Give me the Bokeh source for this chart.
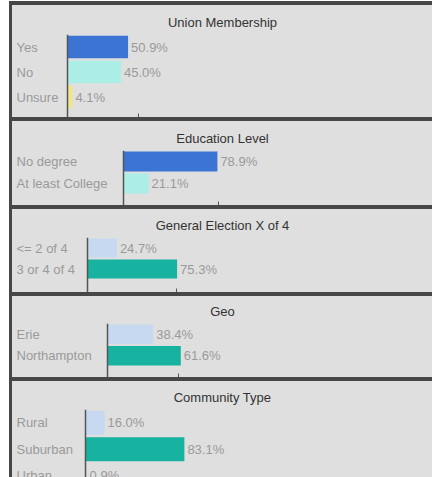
from bokeh.plotting import figure
from bokeh.layouts import column
from bokeh.models import Range1d, LabelSet, Span, FixedTicker, ColumnDataSource
from bokeh.core.properties import value
from bokeh.embed import file_html
from bokeh.resources import INLINE

# ---- data ----
titles = ["Union Membership", "Education Level", "General Election X of 4", "Geo", "Community Type"]
union_cats = ["Yes", "No", "Unsure"]
union_vals = [50.9, 45.0, 4.1]
edu_cats = ["No degree", "At least College"]
edu_vals = [78.9, 21.1]
ge_cats = ["<= 2 of 4", "3 or 4 of 4"]
ge_vals = [24.7, 75.3]
geo_cats = ["Erie", "Northampton"]
geo_vals = [38.4, 61.6]
comm_cats = ["Rural", "Suburban", "Urban"]
comm_vals = [16.0, 83.1, 0.9]
x_ticks = [[0, 60], [0, 80], [0, 75], [0, 60], []]

# ---- styles ----
BLUE = "#3b74d3"
CYAN = "#aaeee6"
YELLOW = "#f0e68c"
LIGHTBLUE = "#c6d9f0"
TEAL = "#17b2a0"
colors = [[BLUE, CYAN, YELLOW], [BLUE, CYAN], [LIGHTBLUE, TEAL], [LIGHTBLUE, TEAL], [LIGHTBLUE, TEAL, LIGHTBLUE]]
cats_all = [union_cats, edu_cats, ge_cats, geo_cats, comm_cats]
vals_all = [union_vals, edu_vals, ge_vals, geo_vals, comm_vals]

BG = "#dfdfdf"
FONT = "Liberation Sans"
W = 420
SCALE = 1.19  # px per percent
# layout per panel: height, frame top offset, row height, x offset of zero line
heights = [112, 84, 83, 81, 96]
tops = [29, 29, 28, 27, 28]
rows = [25, 22, 21, 21.5, 26.5]
zero_off = [55, 111, 75, 95, 73]

figs = []
for i in range(5):
    cats = cats_all[i]
    vals = vals_all[i]
    n = len(cats)
    H, T, R, L = heights[i], tops[i], rows[i], zero_off[i]
    has_axis = len(x_ticks[i]) > 0
    p = figure(width=W, height=H, output_backend="svg", toolbar_location=None,
               x_range=Range1d(-L / SCALE, (W - L) / SCALE),
               y_range=Range1d(-0.5 + (H - T) / R, -0.5),
               x_axis_location="below" if has_axis else None, y_axis_location=None,
               min_border_left=0, min_border_right=0, min_border_bottom=0, min_border_top=T,
               background_fill_color=BG, border_fill_color=BG, outline_line_color=None,
               styles={"background-color": BG})
    p.grid.visible = False
    p.title.text = titles[i]
    p.title.align = "center"
    p.title.text_font = FONT
    p.title.text_font_size = "13px"
    p.title.text_font_style = "normal"
    p.title.text_color = "#333333"
    p.title.standoff = 10

    src = ColumnDataSource(dict(
        y=list(range(n)), v=vals, c=colors[i], cat=cats,
        txt=[f"{v:.1f}%" for v in vals]))
    p.hbar(y="y", left=0, right="v", height=0.9, fill_color="c", line_color=None, source=src)
    p.add_layout(Span(location=0, dimension="height", line_color="#555555", line_width=1.5))
    p.add_layout(LabelSet(x="v", y="y", text="txt", source=src, x_offset=3,
                          text_baseline="middle", text_font=value(FONT), text_font_size=value("13px"),
                          text_color="#9a9a9a"))
    p.add_layout(LabelSet(x=4, x_units="screen", y="y", text="cat", source=src,
                          text_baseline="middle", text_font=value(FONT), text_font_size=value("13px"),
                          text_color="#9a9a9a"))
    if has_axis:
        ax = p.xaxis[0]
        ax.ticker = FixedTicker(ticks=x_ticks[i])
        ax.major_label_overrides = {t: "" for t in x_ticks[i]}
        ax.axis_line_color = None
        ax.major_tick_in = 4
        ax.major_tick_out = 0
        ax.major_tick_line_color = "#555555"
        ax.minor_tick_line_color = None
        ax.major_label_text_font_size = "1px"
        ax.major_label_standoff = 0
    figs.append(p)

layout = column(*figs, spacing=4,
                styles={"background-color": "#474747", "padding-top": "4px", "padding-left": "3px",
                        "margin-left": "9px", "margin-top": "1px"})

open("out.html", "w").write(file_html(layout, INLINE))
